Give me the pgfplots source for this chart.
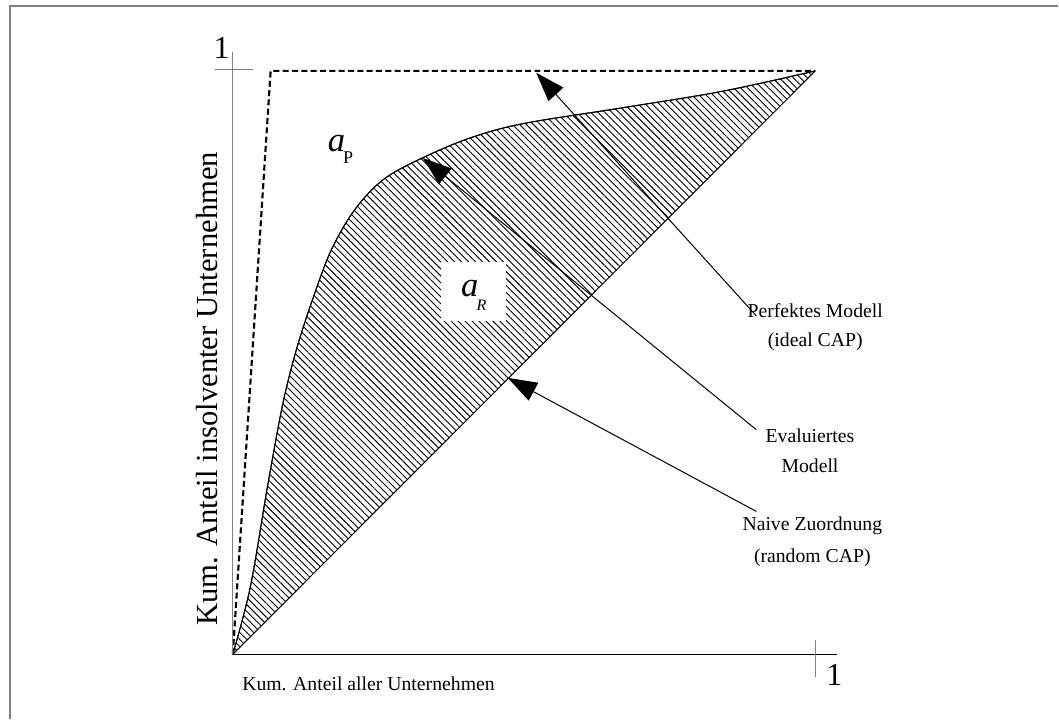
\documentclass[border=0pt]{standalone}
\usepackage{fontspec}
\setmainfont{Liberation Serif}
\usepackage{pgfplots}
\pgfplotsset{compat=1.18}
\usepgfplotslibrary{fillbetween}
\usetikzlibrary{patterns.meta,arrows.meta}
\definecolor{framegray}{RGB}{128,128,128}
\newcommand{\htext}[1]{{\fontsize{14.8}{17}\selectfont #1}}
\begin{document}
\begin{tikzpicture}
\begin{axis}[scale only axis, width=437.25pt, height=438pt,
  xmin=0, xmax=1, ymin=0, ymax=1, hide axis, clip=false]
% bounding box of the whole image
\path (axis cs:-0.39966,-0.11130) rectangle (axis cs:1.41681,1.12158);
% outer frame (left and top)
\draw[framegray, line width=1.5pt] (axis cs:-0.3825,-0.1113) -- (axis cs:-0.3825,1.1113) -- (axis cs:1.41681,1.1113);

% hatched area between evaluated model and random CAP
\addplot[name path=curve, draw=black, line width=0.75pt, smooth, tension=0.55] coordinates {
 (0,0) (0.03,0.115) (0.06,0.29) (0.086,0.43) (0.11,0.525) (0.14,0.617) (0.17,0.695)
 (0.21,0.763) (0.26,0.815) (0.33,0.853) (0.41,0.886) (0.50,0.91) (0.67,0.937) (0.84,0.965) (1,1)};
\addplot[name path=diag, draw=black, line width=0.75pt] coordinates {(0,0) (1,1)};
\addplot[draw=none, pattern={Lines[angle=-45, distance=3.7pt, line width=0.7pt]}, pattern color=black]
  fill between[of=curve and diag];
\addplot[draw=black, line width=0.75pt, smooth, tension=0.55] coordinates {
 (0,0) (0.03,0.115) (0.06,0.29) (0.086,0.43) (0.11,0.525) (0.14,0.617) (0.17,0.695)
 (0.21,0.763) (0.26,0.815) (0.33,0.853) (0.41,0.886) (0.50,0.91) (0.67,0.937) (0.84,0.965) (1,1)};

% perfect model (ideal CAP)
\addplot[draw=black, line width=1.6pt, dash pattern=on 4.5pt off 2.5pt] coordinates {(0,0) (0.065,1) (1,1)};

% axes
\draw[framegray, line width=0.8pt] (axis cs:0,0) -- (axis cs:0,1.0325);
\draw[framegray, line width=0.8pt] (axis cs:-0.0309,1.0017) -- (axis cs:0.0343,1.0017);
\draw[black, line width=0.8pt] (axis cs:0,0) -- (axis cs:1.0377,0);
\draw[framegray, line width=0.8pt] (axis cs:1.0,0.024) -- (axis cs:1.0,-0.0394);
\node[font=\fontsize{24}{24}\selectfont] at (axis cs:-0.019,1.039) {1};
\node[font=\fontsize{24}{24}\selectfont] at (axis cs:1.033,-0.036) {1};

% axis labels
\node[anchor=base, inner sep=0pt] at (axis cs:0.233,-0.0625) {\htext{Kum. Anteil aller Unternehmen}};
\node[rotate=90, inner sep=0pt, font=\fontsize{23}{26}\selectfont] at (axis cs:-0.0446,0.455) {Kum. Anteil insolventer Unternehmen};

% area labels
\node[fill=white, minimum width=48.75pt, minimum height=44.25pt, inner sep=0pt] at (axis cs:0.413,0.622) {};
\node[font=\fontsize{26}{26}\selectfont\itshape, inner sep=0pt] at (axis cs:0.178,0.875) {a};
\node[font=\fontsize{13.5}{13.5}\selectfont, inner sep=0pt] at (axis cs:0.198,0.851) {P};
\node[font=\fontsize{26}{26}\selectfont\itshape, inner sep=0pt] at (axis cs:0.407,0.627) {a};
\node[font=\fontsize{12}{12}\selectfont\itshape, inner sep=0pt] at (axis cs:0.427,0.598) {R};

% annotations (baselines)
\node[anchor=base, inner sep=0pt] at (axis cs:1.0,0.577) {\htext{Perfektes Modell}};
\node[anchor=base, inner sep=0pt] at (axis cs:1.0,0.527) {\htext{(ideal CAP)}};
\node[anchor=base, inner sep=0pt] at (axis cs:0.991,0.364) {\htext{Evaluiertes}};
\node[anchor=base, inner sep=0pt] at (axis cs:0.991,0.3125) {\htext{Modell}};
\node[anchor=base, inner sep=0pt] at (axis cs:0.995,0.2115) {\htext{Naive Zuordnung}};
\node[anchor=base, inner sep=0pt] at (axis cs:0.995,0.158) {\htext{(random CAP)}};

\draw[line width=0.75pt, -{Triangle[length=22pt, width=15pt]}] (axis cs:0.899,0.580) -- (axis cs:0.521,0.997);
\draw[line width=0.75pt, -{Triangle[length=22pt, width=15pt]}] (axis cs:0.899,0.385) -- (axis cs:0.326,0.851);
\draw[line width=0.75pt, -{Triangle[length=22pt, width=15pt]}] (axis cs:0.899,0.245) -- (axis cs:0.472,0.474);
\end{axis}
\end{tikzpicture}
\end{document}
